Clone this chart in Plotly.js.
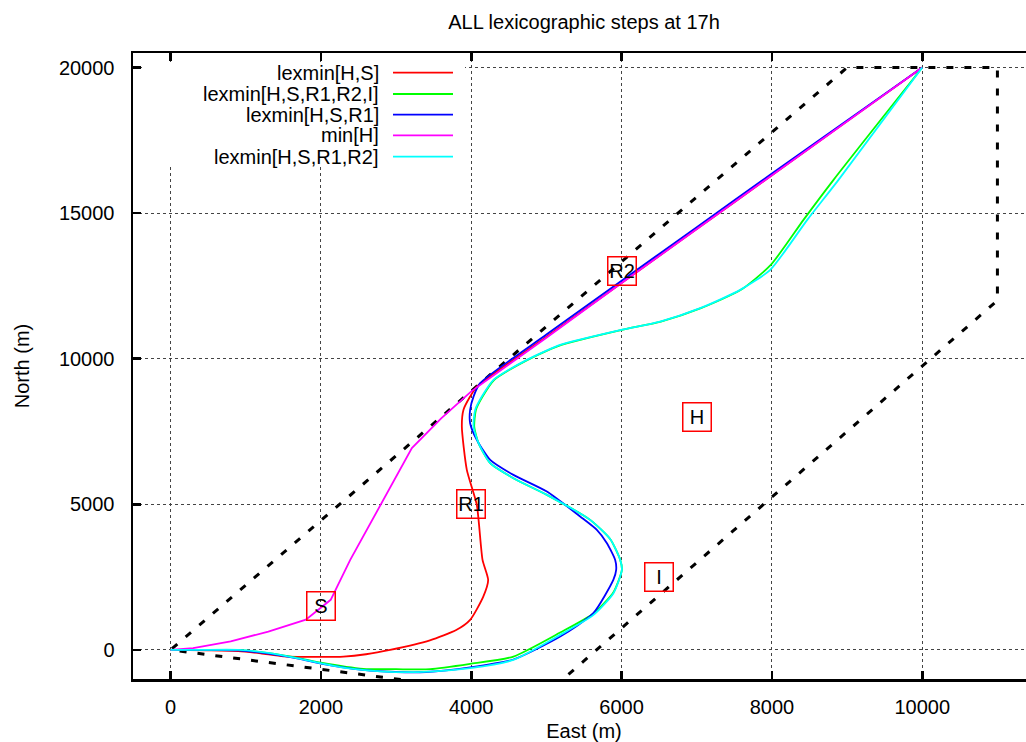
<!DOCTYPE html>
<html>
<head>
<meta charset="utf-8">
<script src="https://cdn.plot.ly/plotly-3.0.1.min.js"></script>
<style>
html,body{margin:0;padding:0;overflow:hidden;background:#fff;}
#chart{width:1040px;height:742px;}
</style>
</head>
<body>
<div id="chart"></div>
<script>
// ---- data ----
const seriesNames = ["lexmin[H,S]", "lexmin[H,S,R1,R2,I]", "lexmin[H,S,R1]", "min[H]", "lexmin[H,S,R1,R2]"];
const seriesColors = ["#ff0000", "#00ff00", "#0000ff", "#ff00ff", "#00ffff"];

const redX = [0, 500, 900, 1200, 1500, 1900, 2300, 2600, 2920, 3450, 3800, 3985, 4160, 4225, 4150, 4074, 3941, 3875, 3896, 3985, 4074, 5000, 6000, 7000, 8000, 9000, 10000];
const redY = [0, -15, -40, -120, -220, -240, -230, -150, 0, 330, 680, 1030, 1830, 2400, 3090, 4980, 6182, 7670, 8243, 8700, 9043, 10755, 12604, 14453, 16302, 18151, 20000];

const greenX = [0, 400, 900, 1300, 1700, 2000, 2566, 3000, 3453, 3985, 4561, 5183, 5626, 5892, 6004, 5982, 5850, 5582, 5006, 4561, 4252, 4097, 4040, 4062, 4151, 4306, 4510, 4750, 5010, 5200, 6005, 6523, 7056, 7588, 7985, 8420, 8820, 10000];
const greenY = [0, 0, -10, -110, -280, -440, -653, -664, -664, -481, -230, 595, 1250, 1980, 2748, 3091, 3800, 4465, 5324, 5896, 6412, 7099, 7670, 8243, 8700, 9274, 9620, 9961, 10280, 10476, 10991, 11276, 11737, 12365, 13223, 14769, 16143, 20000];

const blueX = [0, 400, 900, 1300, 1700, 2000, 2560, 3000, 3400, 3985, 4560, 5183, 5624, 5890, 5928, 5915, 5805, 5671, 5449, 5006, 4561, 4252, 4074, 3985, 3985, 4030, 4119, 5000, 6000, 7000, 8000, 9000, 10000];
const blueY = [0, 0, -20, -130, -300, -470, -690, -760, -760, -600, -330, 457, 1260, 2404, 2748, 3091, 3665, 4122, 4580, 5438, 6010, 6526, 7213, 7785, 8243, 8700, 9160, 10830, 12680, 14520, 16360, 18180, 20000];

const magentaX = [0, 300, 800, 1300, 1800, 2000, 2130, 2390, 2790, 3210, 3600, 4000, 4500, 5000, 6000, 7000, 8000, 9000, 10000];
const magentaY = [0, 60, 290, 630, 1040, 1450, 1720, 3090, 4980, 6930, 7950, 8880, 9800, 10720, 12600, 14450, 16300, 18150, 20000];

const cyanX = [0, 400, 900, 1324, 1679, 1989, 2345, 2832, 3453, 3985, 4561, 5183, 5626, 5892, 6004, 5982, 5850, 5582, 5006, 4561, 4252, 4097, 4030, 4052, 4141, 4296, 4500, 4740, 5000, 5183, 5995, 6513, 7046, 7578, 7977, 8470, 8886, 10000];
const cyanY = [0, 0, 0, -114, -286, -458, -630, -744, -744, -630, -344, 515, 1202, 1946, 2748, 3091, 3800, 4465, 5324, 5896, 6412, 7099, 7670, 8243, 8700, 9274, 9620, 9961, 10280, 10476, 10991, 11276, 11737, 12365, 13051, 14769, 16143, 20000];

// feasible-region boundary (dashed black)
const boundaryX = [3300, 0, 9000, 11000, 11000, 5134];
const boundaryY = [-1100, 0, 20000, 20000, 12000, -1200];

// boxed region labels
const labelText = ["S", "R1", "R2", "H", "I"];
const labelX = [2000, 4000, 6000, 7000, 6500];
const labelY = [1500, 5000, 13000, 8000, 2500];

const xTicks = [0, 2000, 4000, 6000, 8000, 10000];
const yTicks = [0, 5000, 10000, 15000, 20000];

// ---- build ----
const FONT = "Liberation Sans, Arial, sans-serif";
const seriesX = [redX, greenX, blueX, magentaX, cyanX];
const seriesY = [redY, greenY, blueY, magentaY, cyanY];
const seriesShape = ["spline", "spline", "spline", "linear", "spline"];

const traces = [{
  x: boundaryX, y: boundaryY, mode: "lines", showlegend: false, hoverinfo: "skip",
  line: {color: "#000", width: 3, dash: "7px,11px"}
}];
seriesNames.forEach((n, i) => {
  traces.push({x: seriesX[i], y: seriesY[i], mode: "lines", name: n, showlegend: false,
    line: {color: seriesColors[i], width: 1.8, shape: seriesShape[i], smoothing: 0.6}});
});

// plot area in pixels (for legend placement)
const W = 1040, H = 742, L = 133, R = 5, T = 53, B = 63;
const PW = W - L - R, PH = H - T - B;
const px = v => (v - L) / PW;
const py = v => (H - B - v) / PH;

const annotations = [];
// opaque legend box background (covers the grid, like the original key)
const shapes = [{type: "rect", xref: "paper", yref: "paper", layer: "above",
  x0: px(L + 10), x1: px(465), y0: py(166), y1: py(T + 10), fillcolor: "#fff", line: {width: 0}}];
const rowY = [72.7, 94, 114.7, 135.3, 156.7];
seriesNames.forEach((n, i) => {
  annotations.push({xref: "paper", yref: "paper", x: px(381), y: py(rowY[i]), xanchor: "right", yanchor: "middle",
    text: n, showarrow: false, font: {family: FONT, size: 20, color: "#000"}});
  shapes.push({type: "line", xref: "paper", yref: "paper", layer: "above", x0: px(393), x1: px(453), y0: py(rowY[i]), y1: py(rowY[i]),
    line: {color: seriesColors[i], width: 1.8}});
});
labelText.forEach((t, i) => {
  annotations.push({x: labelX[i], y: labelY[i], xref: "x", yref: "y", text: t, showarrow: false,
    font: {family: FONT, size: 20, color: "#000"}, width: 27, height: 27, borderpad: 0,
    bordercolor: "#ff0000", borderwidth: 1.5, bgcolor: "rgba(0,0,0,0)", align: "center", valign: "middle"});
});

const axisCommon = {
  showline: true, linecolor: "#000", linewidth: 2.5, mirror: "ticks",
  ticks: "inside", ticklen: 8, tickwidth: 2.5, tickcolor: "#000",
  showgrid: true, gridcolor: "#444", gridwidth: 1, griddash: "dot",
  zeroline: false, tickfont: {family: FONT, size: 20, color: "#000"},
  fixedrange: true
};

const layout = {
  width: W, height: H,
  margin: {l: L, r: R, t: T, b: B, pad: 0},
  paper_bgcolor: "#fff", plot_bgcolor: "#fff",
  showlegend: false,
  title: {text: "ALL lexicographic steps at 17h", font: {family: FONT, size: 20, color: "#000"},
    x: 0.5, xref: "paper", xanchor: "center", y: 1 - 22 / H, yref: "container", yanchor: "middle"},
  xaxis: Object.assign({}, axisCommon, {range: [-500, 11500], tickmode: "array", tickvals: xTicks,
    ticktext: xTicks.map(String), ticklabelstandoff: 8,
    title: {text: "East (m)", font: {family: FONT, size: 20, color: "#000"}, standoff: 12}}),
  yaxis: Object.assign({}, axisCommon, {range: [-1000, 20500], tickmode: "array", tickvals: yTicks,
    ticktext: yTicks.map(String), ticklabelstandoff: 12,
    title: {text: "North (m)", font: {family: FONT, size: 20, color: "#000"}, standoff: 24}}),
  annotations: annotations,
  shapes: shapes
};

Plotly.newPlot("chart", traces, layout, {staticPlot: true, displayModeBar: false});
</script>
</body>
</html>
